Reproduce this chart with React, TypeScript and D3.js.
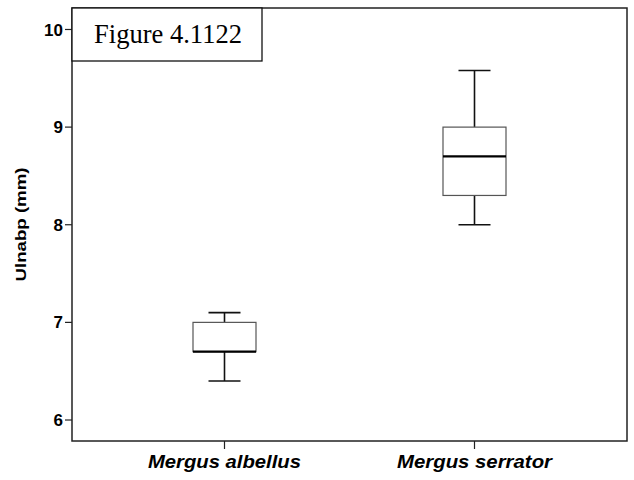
import { FC } from "react";
import * as d3 from "d3";

const WIDTH = 634;
const HEIGHT = 480;
const M = { top: 8, right: 7, bottom: 39, left: 72 };

const species = ["Mergus albellus", "Mergus serrator"];
const labelWidths = [153, 155];
const mins = [6.4, 8.0];
const q1s = [6.7, 8.3];
const medians = [6.7, 8.7];
const q3s = [7.0, 9.0];
const maxs = [7.1, 9.58];
const yTicks = [6, 7, 8, 9, 10];

const App: FC = () => {
  const x = d3
    .scalePoint<string>()
    .domain(species)
    .range([M.left, WIDTH - M.right])
    .padding(0.61);
  const y = d3
    .scaleLinear()
    .domain([5.785, 10.22])
    .range([HEIGHT - M.bottom, M.top]);

  const boxW = 63;
  const capW = 32;
  const bottom = HEIGHT - M.bottom;
  const sans = "'Liberation Sans', Arial, sans-serif";

  return (
    <svg
      width={WIDTH}
      height={HEIGHT}
      style={{ position: "absolute", left: 0, top: 0, background: "#fff" }}
    >
      {/* frame */}
      <rect
        x={M.left}
        y={M.top}
        width={WIDTH - M.left - M.right}
        height={bottom - M.top}
        fill="none"
        stroke="#222"
        strokeWidth={1.5}
      />

      {/* y axis */}
      {yTicks.map((t) => (
        <g key={t}>
          <line x1={M.left - 7} x2={M.left} y1={y(t)} y2={y(t)} stroke="#222" strokeWidth={1.2} />
          <text
            x={M.left - 9}
            y={y(t)}
            dy="0.36em"
            textAnchor="end"
            fontFamily={sans}
            fontWeight="bold"
            fontSize={17}
            fill="#000"
          >
            {t}
          </text>
        </g>
      ))}
      <text
        transform={`translate(26,${(M.top + bottom) / 2}) rotate(-90)`}
        textAnchor="middle"
        fontFamily={sans}
        fontWeight="bold"
        fontSize={15}
        textLength={114}
        lengthAdjust="spacingAndGlyphs"
        fill="#000"
      >
        Ulnabp (mm)
      </text>

      {/* x axis */}
      {species.map((s, i) => (
        <g key={s}>
          <line x1={x(s)} x2={x(s)} y1={bottom} y2={bottom + 8} stroke="#222" strokeWidth={1.2} />
          <text
            x={x(s)}
            y={bottom + 27}
            textAnchor="middle"
            fontFamily={sans}
            fontWeight="bold"
            fontStyle="italic"
            fontSize={17.5}
            textLength={labelWidths[i]}
            lengthAdjust="spacingAndGlyphs"
            fill="#000"
          >
            {s}
          </text>
        </g>
      ))}

      {/* boxes */}
      {species.map((s, i) => {
        const cx = x(s)!;
        return (
          <g key={s}>
            <line x1={cx} x2={cx} y1={y(maxs[i])} y2={y(q3s[i])} stroke="#111" strokeWidth={1.6} />
            <line x1={cx} x2={cx} y1={y(q1s[i])} y2={y(mins[i])} stroke="#111" strokeWidth={1.6} />
            <line x1={cx - capW / 2} x2={cx + capW / 2} y1={y(maxs[i])} y2={y(maxs[i])} stroke="#111" strokeWidth={1.6} />
            <line x1={cx - capW / 2} x2={cx + capW / 2} y1={y(mins[i])} y2={y(mins[i])} stroke="#111" strokeWidth={1.6} />
            <rect
              x={cx - boxW / 2}
              y={y(q3s[i])}
              width={boxW}
              height={y(q1s[i]) - y(q3s[i])}
              fill="#fff"
              stroke="#555"
              strokeWidth={1.2}
            />
            <line
              x1={cx - boxW / 2}
              x2={cx + boxW / 2}
              y1={y(medians[i])}
              y2={y(medians[i])}
              stroke="#000"
              strokeWidth={2.2}
            />
          </g>
        );
      })}

      {/* figure label */}
      <rect x={M.left} y={M.top} width={190} height={53} fill="#fff" stroke="#111" strokeWidth={1.3} />
      <text
        x={94}
        y={43}
        fontFamily="'Liberation Serif', 'Times New Roman', serif"
        fontSize={26.5}
        textLength={148}
        lengthAdjust="spacingAndGlyphs"
        fill="#000"
      >
        Figure 4.1122
      </text>
    </svg>
  );
};

export default App;
